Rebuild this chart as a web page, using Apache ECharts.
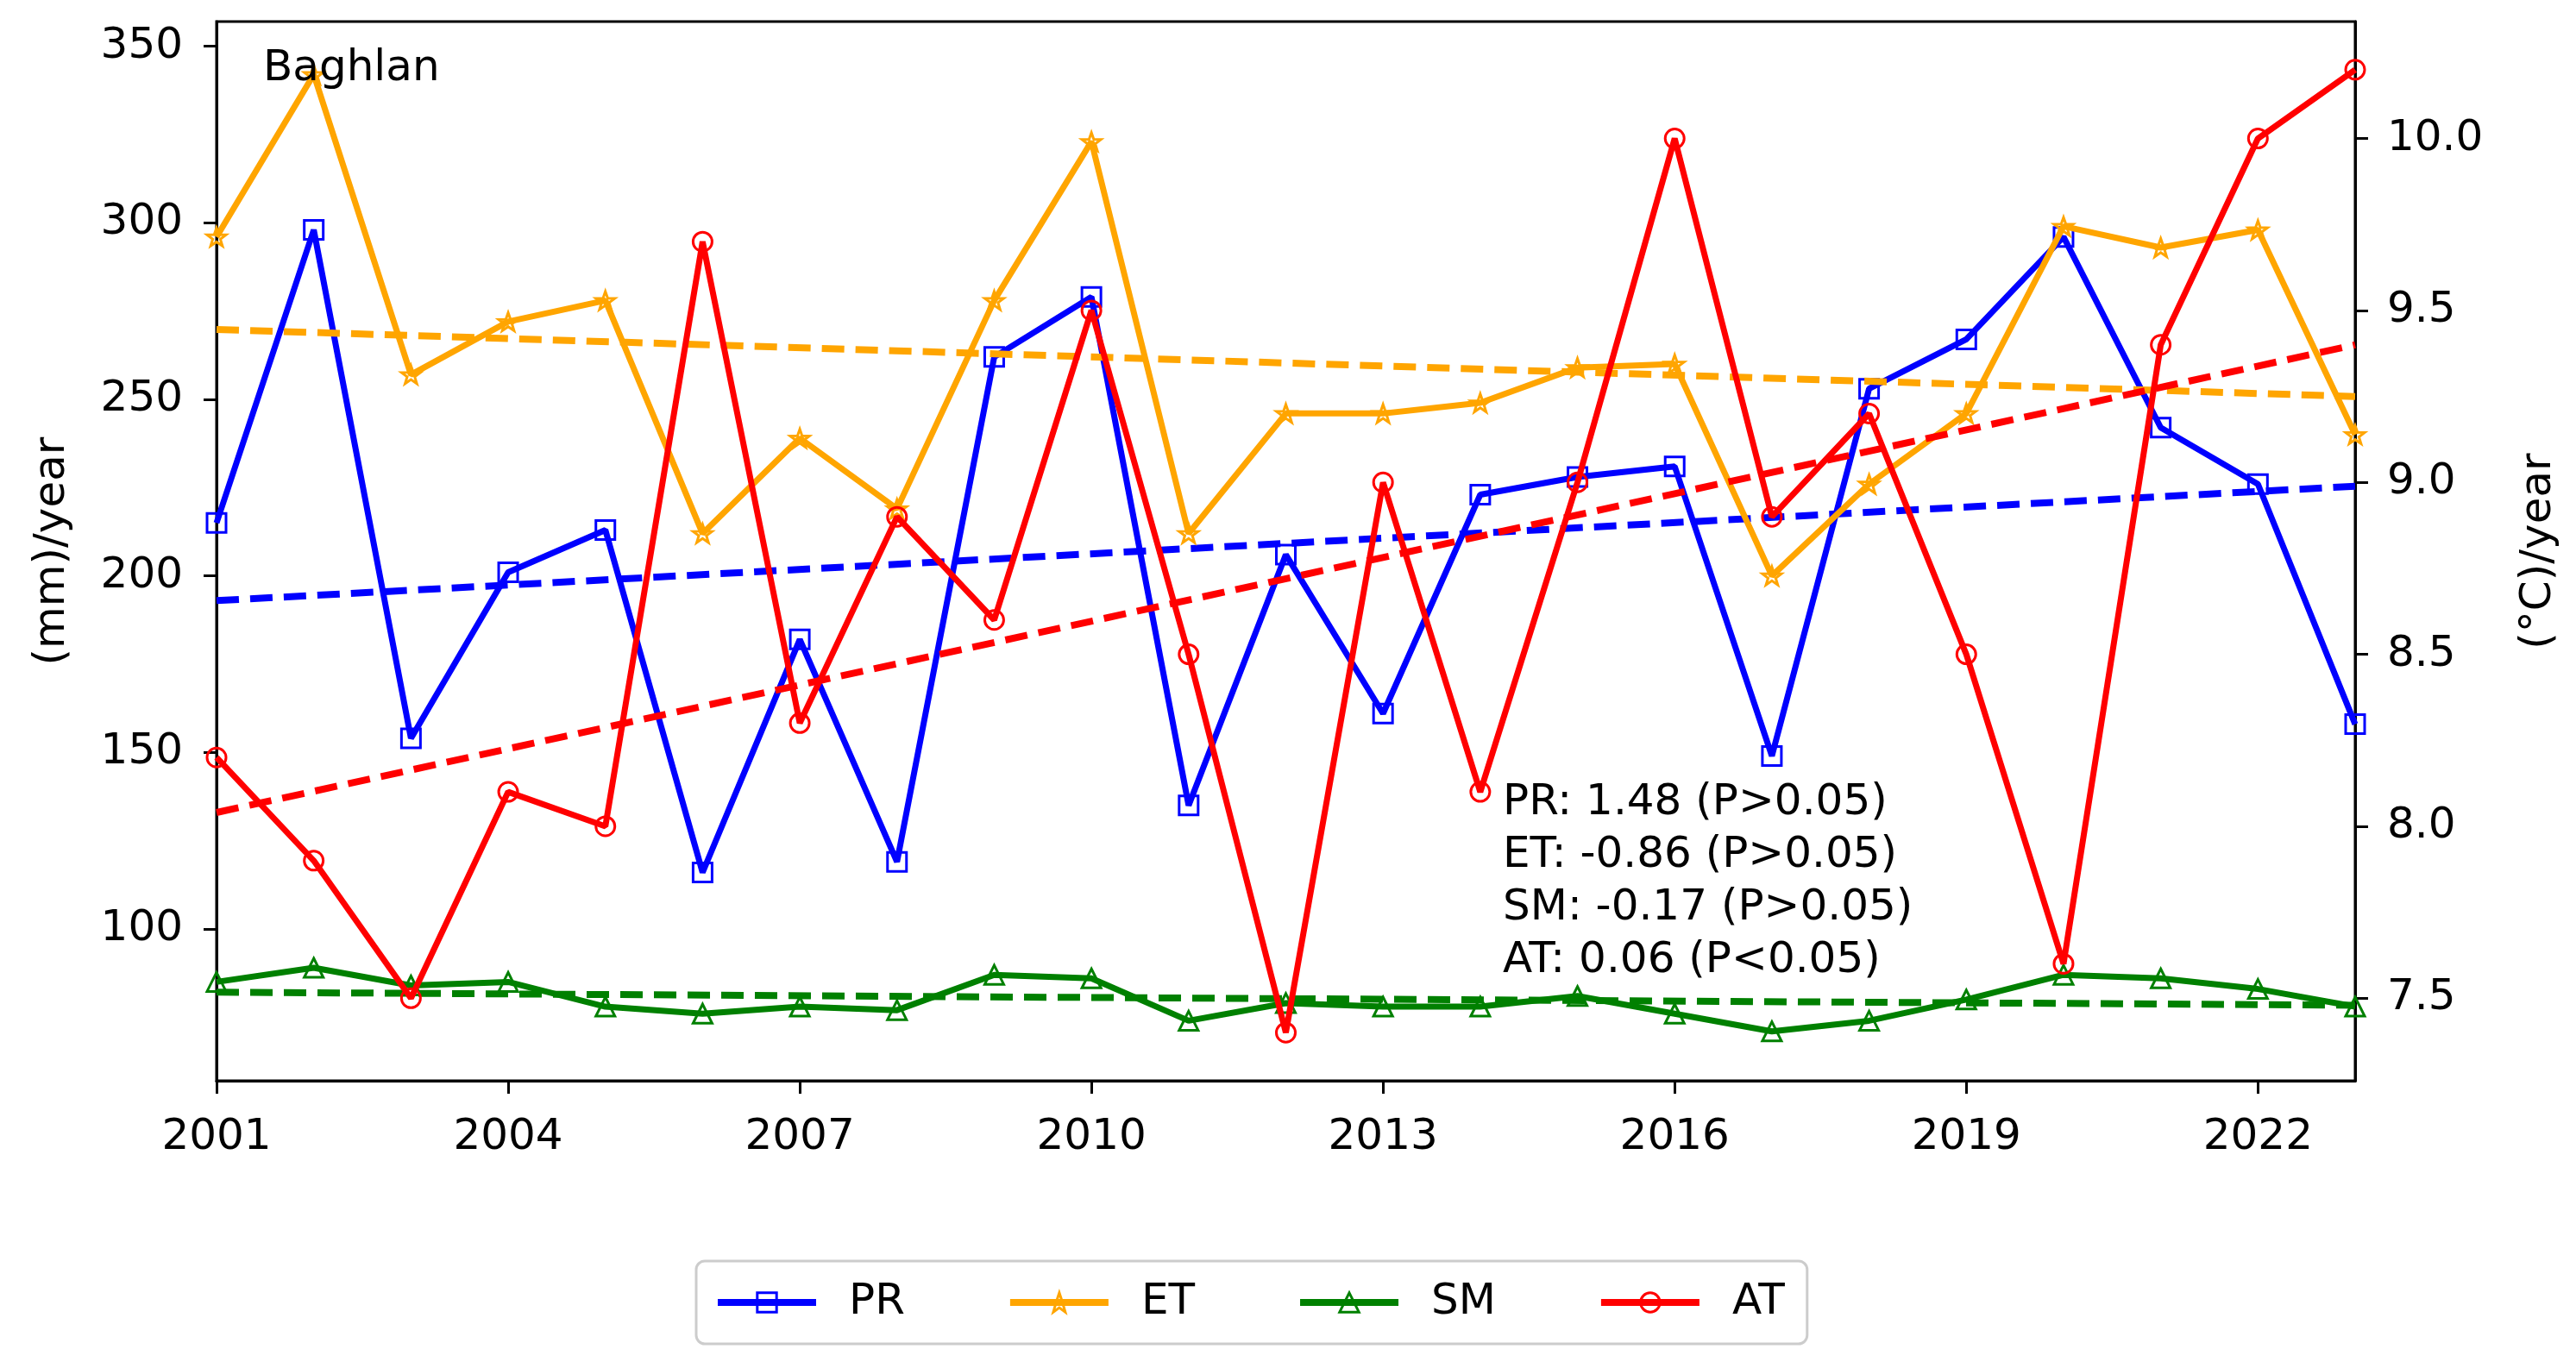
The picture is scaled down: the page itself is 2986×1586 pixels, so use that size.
<!DOCTYPE html>
<html>
<head>
<meta charset="utf-8">
<script src="https://cdn.jsdelivr.net/npm/echarts@6/dist/echarts.min.js"></script>
<style>
html,body{margin:0;padding:0;background:#fff;}
#chart{width:2986px;height:1586px;}
</style>
</head>
<body>
<div id="chart"></div>
<script>
const years = [2001,2002,2003,2004,2005,2006,2007,2008,2009,2010,2011,2012,2013,2014,2015,2016,2017,2018,2019,2020,2021,2022,2023];
const PR = [215,298,154,201,213,116,182,119,262,279,135,206,161,223,228,231,149,253,267,296,242,226,158];
const ET = [296,342,257,272,278,212,239,219,278,323,212,246,246,249,259,260,200,226,246,299,293,298,240];
const SM = [85,89,84,85,78,76,78,77,87,86,74,79,78,78,81,76,71,74,80,87,86,83,78];
const AT = [8.2,7.9,7.5,8.1,8.0,9.7,8.3,8.9,8.6,9.5,8.5,7.4,9.0,8.1,9.0,10.0,8.9,9.2,8.5,7.6,9.4,10.0,10.2];
// trend line end values (2001, 2023)
const trendPR = [193, 225.4];
const trendET = [269.8, 250.8];
const trendSM = [82.1, 78.4];
const trendAT = [8.04, 9.40];
const xTicks = [2001,2004,2007,2010,2013,2016,2019,2022];
const leftTicks = [100,150,200,250,300,350];
const rightTicks = [7.5,8.0,8.5,9.0,9.5,10.0];
const annotationLines = ['PR: 1.48 (P>0.05)','ET: -0.86 (P>0.05)','SM: -0.17 (P>0.05)','AT: 0.06 (P<0.05)'];
const regionName = 'Baghlan';

const FONT = '"DejaVu Sans", "Liberation Sans", sans-serif';
const starPath = 'path://M0,-10 L2.35,-3.24 L9.51,-3.09 L3.8,1.24 L5.88,8.09 L0,4 L-5.88,8.09 L-3.8,1.24 L-9.51,-3.09 L-2.35,-3.24 Z';

function pairs(vals){ return years.map((y,i)=>[y, vals[i]]); }
function trend(v){ return [[years[0], v[0]], [years[years.length-1], v[1]]]; }

function mainSeries(name, vals, color, symbol, yIdx, z){
  return {
    name, type:'line', yAxisIndex:yIdx, data:pairs(vals), z,
    symbol, symbolSize: symbol===starPath ? 22 : 22, symbolKeepAspect:true,
    itemStyle:{color:'rgba(0,0,0,0)', borderColor:color, borderWidth:3},
    lineStyle:{color, width:7},
    emphasis:{disabled:true}
  };
}
function trendSeries(name, v, color, yIdx, z){
  return {
    name, type:'line', yAxisIndex:yIdx, data:trend(v), z,
    symbol:'none', lineStyle:{color, width:8, type:[26,13]},
    emphasis:{disabled:true}, silent:true
  };
}

const axisCommon = {
  axisLine:{show:true, lineStyle:{color:'#000', width:3}},
  splitLine:{show:false}
};

const chart = echarts.init(document.getElementById('chart'), null, {renderer:'canvas'});
chart.setOption({
  animation:false,
  backgroundColor:'#fff',
  grid:{left:251, right:256, top:25, bottom:333, show:true, borderColor:'#000', borderWidth:3, backgroundColor:'transparent'},
  xAxis:Object.assign({}, axisCommon, {
    type:'value', min:2001, max:2023,
    axisTick:{show:true, length:15, lineStyle:{color:'#000', width:3}, customValues:xTicks},
    axisLabel:{customValues:xTicks, formatter:v=>String(v), fontSize:50, fontFamily:FONT, color:'#000', margin:41}
  }),
  yAxis:[
    Object.assign({}, axisCommon, {
      type:'value', position:'left', min:57, max:357,
      name:'(mm)/year', nameLocation:'middle', nameGap:165, nameRotate:90,
      nameTextStyle:{fontSize:50, fontFamily:FONT, color:'#000'},
      axisTick:{show:true, length:15, lineStyle:{color:'#000', width:3}, customValues:leftTicks},
      axisLabel:{customValues:leftTicks, formatter:v=>String(Math.round(v)), fontSize:50, fontFamily:FONT, color:'#000', margin:39}
    }),
    Object.assign({}, axisCommon, {
      type:'value', position:'right', min:7.26, max:10.34,
      name:'(°C)/year', nameLocation:'middle', nameGap:188, nameRotate:90,
      nameTextStyle:{fontSize:50, fontFamily:FONT, color:'#000'},
      axisTick:{show:true, length:15, lineStyle:{color:'#000', width:3}, customValues:rightTicks},
      axisLabel:{customValues:rightTicks, formatter:v=>v.toFixed(1), fontSize:50, fontFamily:FONT, color:'#000', margin:37}
    })
  ],
  legend:{
    data:['PR','ET','SM','AT'],
    left:807, top:1462, orient:'horizontal',
    itemWidth:114, itemHeight:28, itemGap:118,
    padding:[23,26,23,21],
    borderColor:'#cccccc', borderWidth:3, borderRadius:10, backgroundColor:'#fff',
    lineStyle:{width:8},
    itemStyle:{borderWidth:3},
    textStyle:{fontSize:50, fontFamily:FONT, color:'#000', padding:[0,0,0,33]}
  },
  graphic:[
    {type:'text', left:305, top:55, z:100, style:{text:regionName, font:'50px '+FONT, fill:'#000'}},
    {type:'text', left:1742, top:901, z:100, style:{text:annotationLines.join('\n'), font:'50px '+FONT, fill:'#000', lineHeight:61}}
  ],
  series:[
    mainSeries('PR', PR, '#0000ff', 'rect', 0, 2),
    trendSeries('PR trend', trendPR, '#0000ff', 0, 2),
    mainSeries('ET', ET, '#ffa500', starPath, 0, 3),
    trendSeries('ET trend', trendET, '#ffa500', 0, 3),
    mainSeries('SM', SM, '#008000', 'triangle', 0, 4),
    trendSeries('SM trend', trendSM, '#008000', 0, 4),
    mainSeries('AT', AT, '#ff0000', 'circle', 1, 5),
    trendSeries('AT trend', trendAT, '#ff0000', 1, 5)
  ]
});
</script>
</body>
</html>
